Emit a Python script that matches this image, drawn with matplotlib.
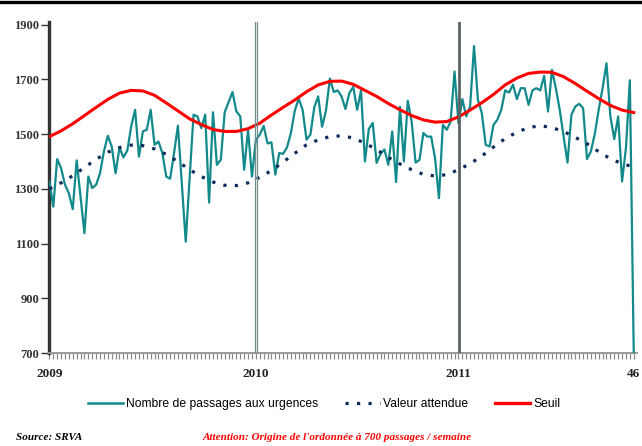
#!/usr/bin/env python
# -*- coding: utf-8 -*-
import numpy as np
import matplotlib
matplotlib.use('Agg')
import matplotlib.pyplot as plt
from matplotlib.lines import Line2D

# weekly counts, 2009-W01 .. 2011-W46 (53 + 52 + 46 weeks)
passages = [
    1327, 1235, 1409, 1376, 1315, 1284, 1226, 1404, 1270, 1138,
    1345, 1303, 1315, 1357, 1437, 1494, 1455, 1357, 1451, 1415,
    1440, 1528, 1589, 1418, 1510, 1516, 1589, 1461, 1473, 1431,
    1345, 1337, 1431, 1531, 1320, 1107, 1340, 1571, 1565, 1522,
    1571, 1250, 1580, 1388, 1406, 1580, 1617, 1654, 1583, 1565,
    1370, 1516, 1345, 1479, 1498, 1530, 1466, 1470, 1352, 1431,
    1428, 1452, 1504, 1586, 1630, 1589, 1480, 1498, 1598, 1638,
    1527, 1586, 1703, 1654, 1660, 1638, 1592, 1650, 1673, 1589,
    1660, 1400, 1519, 1541, 1395, 1428, 1444, 1388, 1510, 1325,
    1600, 1400, 1622, 1545, 1396, 1406, 1504, 1491, 1491, 1412,
    1266, 1534, 1516, 1546, 1729, 1540, 1628, 1565, 1601, 1822,
    1626, 1577, 1461, 1455, 1534, 1553, 1589, 1660, 1652, 1681,
    1628, 1668, 1668, 1607, 1660, 1668, 1660, 1713, 1583, 1735,
    1668, 1589, 1491, 1396, 1571, 1601, 1611, 1595, 1409, 1437,
    1501, 1589, 1668, 1759, 1565, 1482, 1565, 1327, 1450, 1697,
    700,
]

# smooth curves read every 3 weeks
curve_weeks = list(range(0, 151, 3))
attendue = [
    1300, 1322, 1348, 1378, 1408, 1434, 1451, 1460, 1458, 1446,
    1426, 1400, 1370, 1345, 1325, 1313, 1312, 1322, 1342, 1367,
    1398, 1430, 1461, 1479, 1491, 1494, 1486, 1467, 1444, 1415,
    1391, 1370, 1353, 1347, 1352, 1370, 1392, 1420, 1453, 1484,
    1507, 1524, 1531, 1524, 1510, 1488, 1465, 1436, 1410, 1392,
    1380,
]
seuil = [
    1491, 1512, 1538, 1568, 1598, 1627, 1650, 1660, 1658, 1642,
    1614, 1585, 1556, 1535, 1517, 1510, 1510, 1520, 1540, 1570,
    1598, 1625, 1655, 1680, 1693, 1694, 1682, 1660, 1638, 1612,
    1589, 1568, 1552, 1544, 1546, 1563, 1588, 1615, 1645, 1680,
    1705, 1722, 1727, 1726, 1710, 1685, 1657, 1630, 1605, 1588,
    1579,
]

year_weeks = [0, 53, 105, 150]
year_labels = ['2009', '2010', '2011', '46']
yticks = [700, 900, 1100, 1300, 1500, 1700, 1900]

TEAL = '#12898a'
NAVY = '#0c2d5c'
RED = '#ff0000'
SERIF = ['Liberation Serif', 'DejaVu Serif']
SANS = ['Liberation Sans', 'DejaVu Sans']

fig = plt.figure(figsize=(6.42, 4.46), dpi=100)
ax = fig.add_axes([0.0763, 0.2085, 0.9157, 0.7422])

weeks = np.arange(len(passages))
ax.plot(weeks, passages, color=TEAL, lw=1.6, zorder=3)
ax.plot(curve_weeks, attendue, color=NAVY, lw=2.3,
        linestyle=(0, (1, 2.6)), zorder=4)
ax.plot(curve_weeks, seuil, color=RED, lw=2.2, zorder=5)

# year separators
ax.axvline(52.7, color='#6f8c8c', lw=0.9, zorder=6)
ax.axvline(53.25, color='#6f8c8c', lw=0.9, zorder=6)
ax.axvline(105.2, color='#5a6262', lw=2.0, zorder=6)

ax.set_xlim(-0.1, 150.8)
ax.set_ylim(700, 1910)

ax.set_yticks(yticks)
ax.set_yticklabels([str(v) for v in yticks], family=SERIF,
                   fontweight='bold', fontsize=9, color='#333333')
ax.tick_params(axis='y', direction='out', length=6, width=1,
               color='#333333', pad=1)

ax.set_xticks(year_weeks)
ax.set_xticklabels(year_labels, family=SERIF, fontweight='bold',
                   fontsize=9.5, color='#222222')
ax.set_xticks(weeks, minor=True)
ax.tick_params(axis='x', which='both', direction='out', length=4,
               width=0.9, color='#8a8a8a', pad=7)

for side in ['top', 'right']:
    ax.spines[side].set_visible(False)
ax.spines['left'].set_color('#333333')
ax.spines['left'].set_linewidth(2.4)
ax.spines['bottom'].set_color('#9a9a9a')
ax.spines['bottom'].set_linewidth(1.4)

# black rule across the top of the figure
fig.add_artist(Line2D([0, 1], [0.9945, 0.9945], color='black', lw=2.4,
                      transform=fig.transFigure))

handles = [
    Line2D([], [], color=TEAL, lw=1.8),
    Line2D([], [], color=NAVY, lw=2.3, linestyle=(0, (1, 2.6))),
    Line2D([], [], color=RED, lw=2.4),
]
labels = ['Nombre de passages aux urgences', 'Valeur attendue', 'Seuil']
fig.legend(handles, labels, loc='center', bbox_to_anchor=(0.505, 0.094),
           ncol=3, frameon=False, handlelength=2.9, handletextpad=0.25,
           columnspacing=2.2, prop={'family': SANS, 'size': 8.7})

fig.text(0.025, 0.018, 'Source: SRVA', family=SERIF, fontweight='bold',
         fontstyle='italic', fontsize=8, va='center', ha='left')
fig.text(0.315, 0.018,
         "Attention: Origine de l'ordonnée à 700 passages / semaine",
         family=SERIF, fontweight='bold', fontstyle='italic', fontsize=8,
         color='#ff0000', va='center', ha='left')

fig.savefig('out.png', dpi=100)
